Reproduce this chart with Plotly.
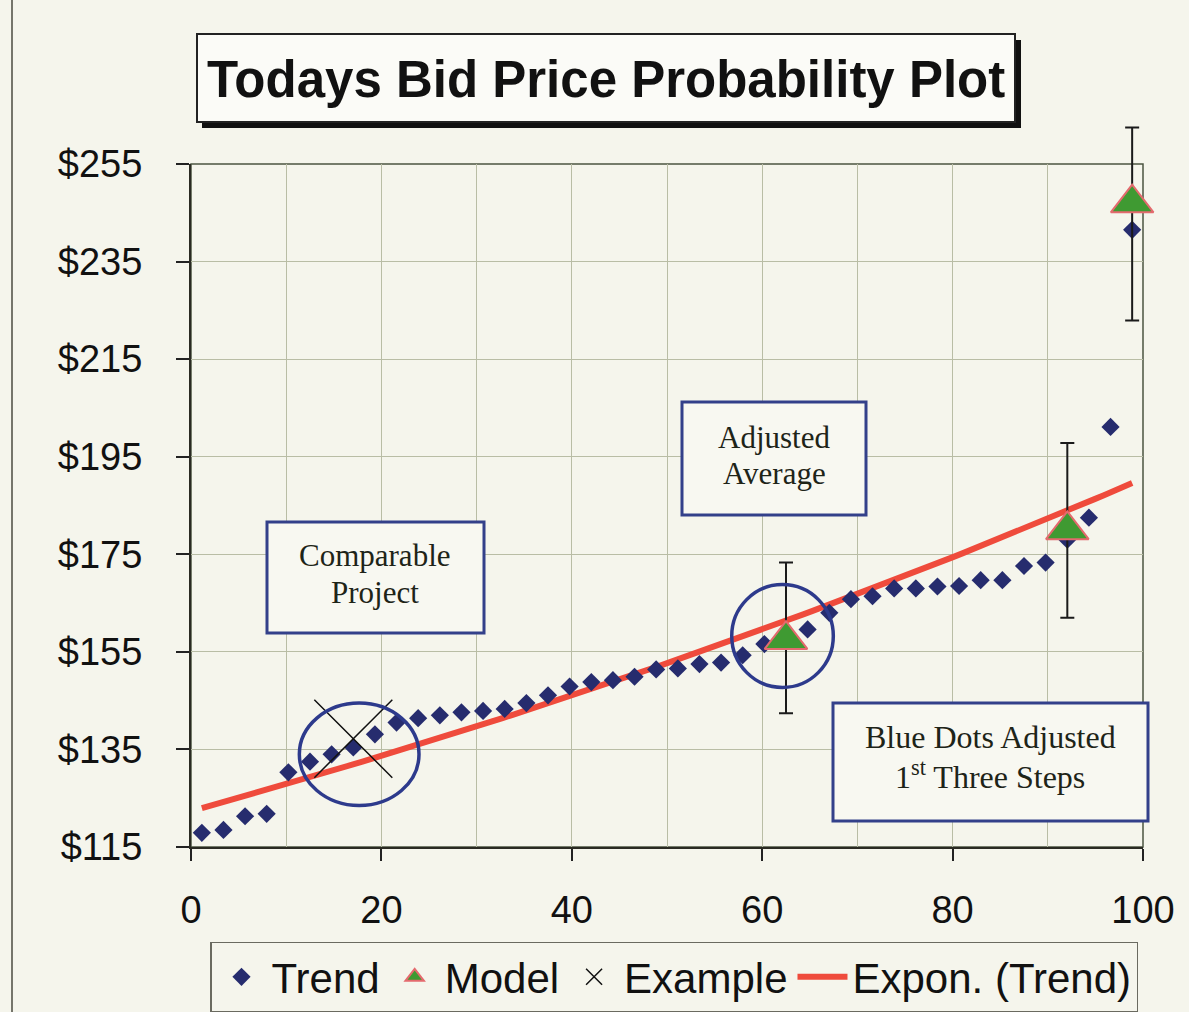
import numpy as np
import plotly.graph_objects as go

# ---------------- data ----------------
trend_x = [1.14, 3.41, 5.68, 7.95, 10.23, 12.50, 14.77, 17.05, 19.32, 21.59, 23.86,
           26.14, 28.41, 30.68, 32.95, 35.23, 37.50, 39.77, 42.05, 44.32, 46.59, 48.86,
           51.14, 53.41, 55.68, 57.95, 60.23, 62.50, 64.77, 67.05, 69.32, 71.59, 73.86,
           76.14, 78.41, 80.68, 82.95, 85.23, 87.50, 89.77, 92.05, 94.32, 96.59, 98.86]
trend_y = [117.9, 118.5, 121.3, 121.8, 130.3, 132.5, 134.0, 135.4, 138.1, 140.5, 141.4,
           142.0, 142.6, 142.9, 143.3, 144.5, 146.1, 147.9, 148.8, 149.2, 149.9, 151.4,
           151.6, 152.5, 152.8, 154.3, 156.6, 158.0, 159.6, 163.0, 165.8, 166.4, 168.0,
           168.0, 168.4, 168.5, 169.7, 169.7, 172.6, 173.3, 178.0, 182.5, 201.1, 241.5]

model_x = [62.50, 92.05, 98.86]
model_y = [157.5, 180.0, 247.0]
model_err_plus = [15.8, 17.8, 15.5]
model_err_minus = [15.1, 18.0, 24.1]

example_x = [17.05]
example_y = [137.2]

x_ticks = [0, 20, 40, 60, 80, 100]
y_ticks = [115, 135, 155, 175, 195, 215, 235, 255]
X_RANGE = [0, 100]
Y_RANGE = [115, 255]

# exponential trendline fitted to the Trend series (as Excel does)
b, ln_a = np.polyfit(np.array(trend_x), np.log(np.array(trend_y)), 1)
fit_x = np.linspace(min(trend_x), max(trend_x), 100)
fit_y = np.exp(ln_a) * np.exp(b * fit_x)

# ---------------- layout geometry (pixels) ----------------
W, H = 1189, 1012
L, R, T, B = 191, 1143, 164, 847      # visible plot frame
T2 = 110                               # extended top for the error-bar subplot
PW = R - L
PH2 = B - T2
main_dom_top = (B - T) / (B - T2)
y2_top = Y_RANGE[0] + (Y_RANGE[1] - Y_RANGE[0]) / main_dom_top


def px(x):
    return (x - L) / PW


def py(y):
    return (B - y) / PH2


SANS = "Liberation Sans, Arial, sans-serif"
SERIF = "Liberation Serif, Times New Roman, serif"
BG = "#f5f5ec"
NAVY = "#2d3a8c"
TXT = "#1e2418"

fig = go.Figure()

fig.add_trace(go.Scatter(
    x=fit_x, y=fit_y, mode="lines", name="Expon. (Trend)", legendrank=4,
    line=dict(color="#ef4b3c", width=6),
))
fig.add_trace(go.Scatter(
    x=trend_x, y=trend_y, mode="markers", name="Trend", legendrank=1,
    marker=dict(symbol="diamond", size=14, color="#262c6e"),
    cliponaxis=False,
))
fig.add_trace(go.Scatter(
    x=example_x, y=example_y, mode="markers", name="Example", legendrank=3,
    marker=dict(symbol="x-thin-open", size=78, color="#111111",
                line=dict(color="#111111", width=1.5)),
    cliponaxis=False,
))
fig.add_trace(go.Scatter(
    x=model_x, y=model_y, mode="markers", name="Model", legendrank=2,
    xaxis="x2", yaxis="y2",
    marker=dict(symbol="triangle-up", size=37, color="#3f9a32",
                line=dict(color="#e46a6e", width=2)),
    error_y=dict(type="data", symmetric=False, array=model_err_plus,
                 arrayminus=model_err_minus, color="#1a1a1a", thickness=2, width=7),
    cliponaxis=False,
))

shapes = []
# plot frame (top/right)
shapes.append(dict(type="rect", xref="paper", yref="paper", x0=0, x1=1, y0=0, y1=py(T),
                   line=dict(color="#4b5440", width=1.5), layer="below"))
# outer chart border line at the left
shapes.append(dict(type="line", xref="paper", yref="paper",
                   x0=px(12), x1=px(12), y0=py(0), y1=py(1012),
                   line=dict(color="#4a4a40", width=1.5)))
# circles
shapes.append(dict(type="circle", xref="x", yref="y", x0=11.38, x1=23.95, y0=123.5, y1=144.5,
                   line=dict(color=NAVY, width=3.5)))
shapes.append(dict(type="circle", xref="x", yref="y", x0=56.8, x1=67.47, y0=147.7, y1=168.8,
                   line=dict(color=NAVY, width=3.5)))
# text boxes
for (x0, y0, x1, y1) in [(267, 522, 484, 633), (682, 402, 866, 515), (833, 703, 1148, 821)]:
    shapes.append(dict(type="rect", xref="paper", yref="paper",
                       x0=px(x0), x1=px(x1), y0=py(y1), y1=py(y0),
                       fillcolor="#f8f8f1", line=dict(color="#33408a", width=3)))
# title box with shadow
shapes.append(dict(type="rect", xref="paper", yref="paper",
                   x0=px(202), x1=px(1021), y0=py(128), y1=py(40),
                   fillcolor="#111111", line=dict(width=0)))
shapes.append(dict(type="rect", xref="paper", yref="paper",
                   x0=px(197), x1=px(1015), y0=py(122), y1=py(34),
                   fillcolor="#fbfbf7", line=dict(color="#222222", width=2)))


def label(x, y, text, size=31, family=SERIF, color=TXT):
    return dict(xref="paper", yref="paper", x=px(x), y=py(y), text=text,
                showarrow=False, font=dict(family=family, size=size, color=color),
                xanchor="center", yanchor="middle")


annotations = [
    label(606, 79, "<b>Todays Bid Price Probability Plot</b>", size=51, family=SANS, color="#111111"),
    label(375, 555, "Comparable"),
    label(375, 592, "Project"),
    label(774, 437, "Adjusted"),
    label(774, 473, "Average"),
    label(990, 737, "Blue Dots Adjusted", size=32),
    label(990, 775, "1<sup>st</sup> Three Steps", size=32),
]

fig.update_layout(
    width=W, height=H,
    margin=dict(l=L, r=W - R, t=T2, b=H - B, pad=0, autoexpand=False),
    paper_bgcolor=BG, plot_bgcolor="rgba(0,0,0,0)",
    shapes=shapes, annotations=annotations,
    showlegend=True,
    legend=dict(orientation="h", x=px(674), y=py(977), xanchor="center", yanchor="middle",
                font=dict(family=SANS, size=42, color="#111111"),
                bordercolor="#6a6a60", borderwidth=1.5, bgcolor=BG,
                itemwidth=50, itemsizing="trace"),
    font=dict(family=SANS),
    xaxis=dict(
        range=X_RANGE, domain=[0, 1], anchor="y", tickvals=x_ticks,
        ticktext=[str(v) for v in x_ticks],
        showgrid=True, gridcolor="#b9bda5", gridwidth=1,
        minor=dict(dtick=10, tick0=0, showgrid=True, gridcolor="#b9bda5", gridwidth=1, ticks=""),
        ticks="outside", ticklen=12, tickwidth=2, tickcolor="#222",
        showline=True, linecolor="#2a2a22", linewidth=2,
        tickfont=dict(family=SANS, size=38, color="#111111"),
        ticklabelstandoff=16, zeroline=False, fixedrange=True,
    ),
    yaxis=dict(
        range=Y_RANGE, domain=[0, main_dom_top], anchor="x", tickvals=y_ticks,
        ticktext=["$" + str(v) for v in y_ticks],
        showgrid=True, gridcolor="#b9bda5", gridwidth=1,
        ticks="outside", ticklen=13, tickwidth=2, tickcolor="#222",
        showline=True, linecolor="#2a2a22", linewidth=2,
        tickfont=dict(family=SANS, size=38, color="#111111"),
        ticklabelstandoff=26, zeroline=False, fixedrange=True,
    ),
    xaxis2=dict(range=X_RANGE, domain=[0, 1], anchor="y2", visible=False,
                showgrid=False, zeroline=False, fixedrange=True),
    yaxis2=dict(range=[Y_RANGE[0], y2_top], domain=[0, 1], anchor="x2", visible=False,
                showgrid=False, zeroline=False, fixedrange=True),
)

fig.write_html(
    "out.html",
    config={"displayModeBar": False},
    post_script="document.body.style.margin='0';document.body.style.background='%s';" % BG,
)
